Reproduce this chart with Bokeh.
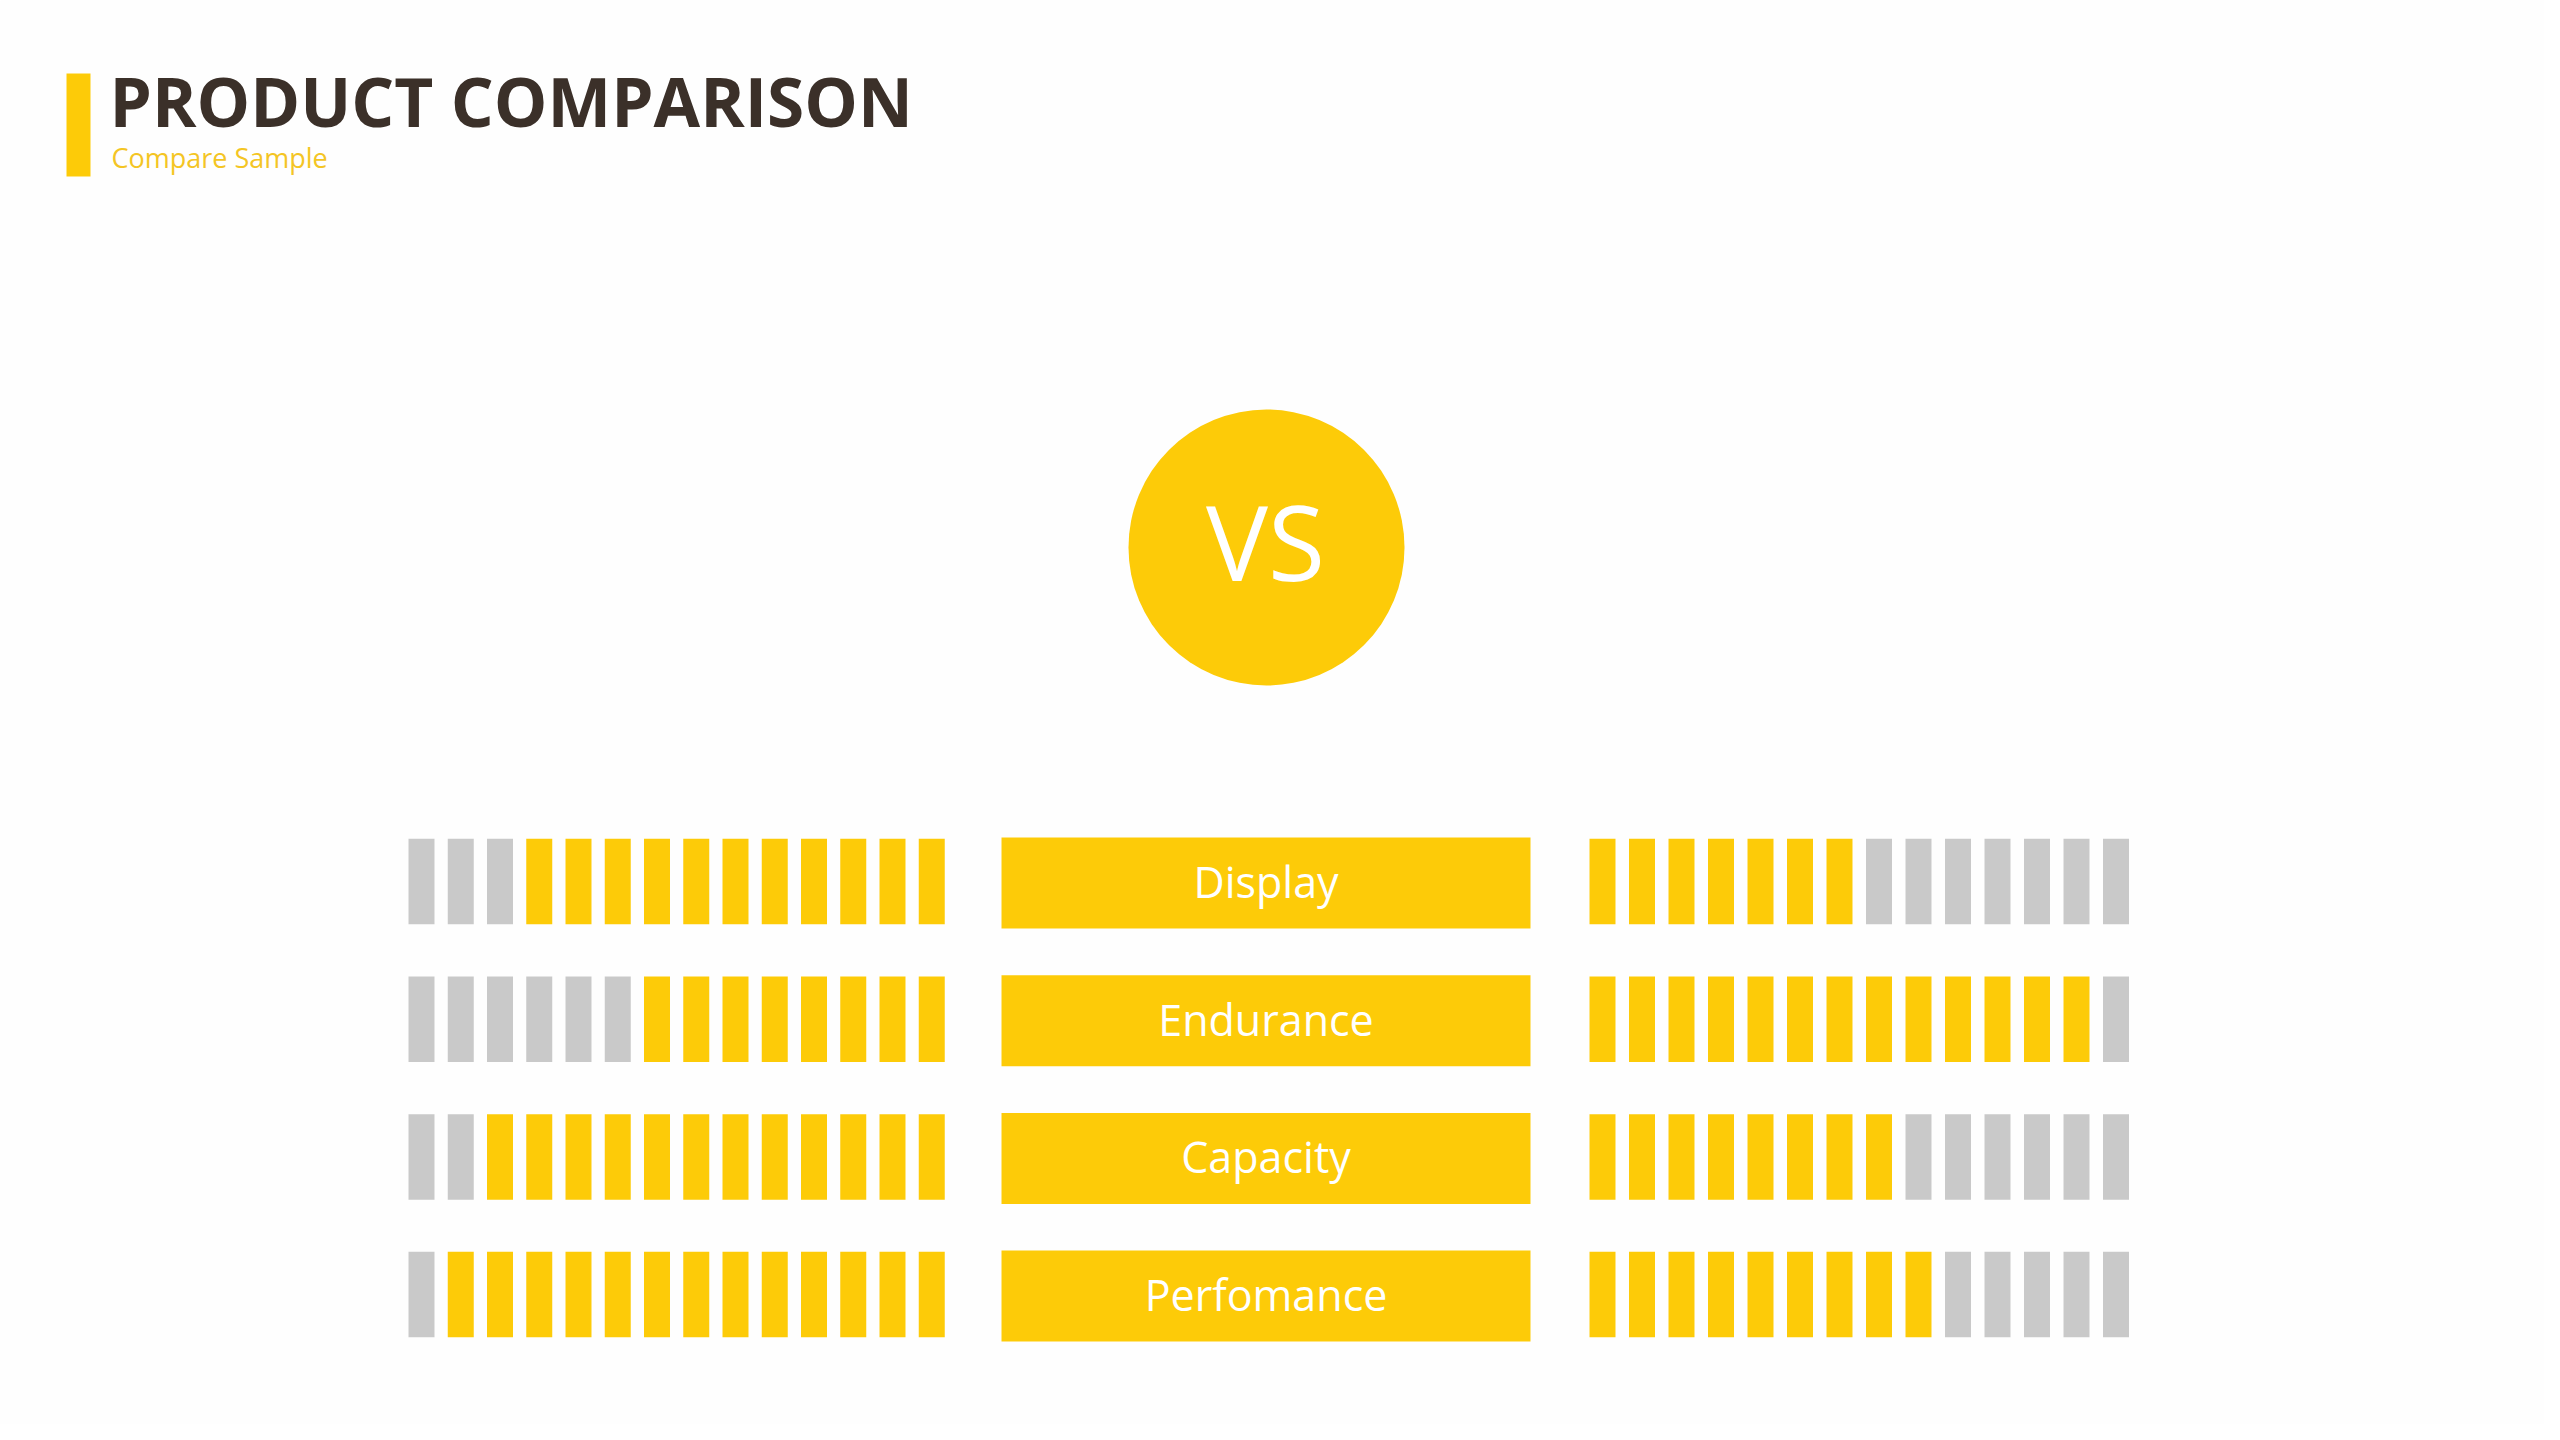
from bokeh.plotting import figure
from bokeh.models import ColumnDataSource, Range1d
from bokeh.core.properties import value
from bokeh.embed import file_html
from bokeh.resources import INLINE

# ---- data ----
title = "PRODUCT COMPARISON"
subtitle = "Compare Sample"
center_text = "VS"
categories = ["Display", "Endurance", "Capacity", "Perfomance"]
left_scores = [11, 8, 12, 13]
right_scores = [7, 13, 8, 9]
max_score = 14

# ---- styles ----
YELLOW = "#FDCB08"
GRAY = "#C9C9C9"
DARK = "#3B3029"
SUB = "#F4C524"
BG = "#FEFEFE"
FONT = "Open Sans"

W, H = 2544, 1424
p = figure(width=W, height=H, output_backend="svg", toolbar_location=None,
           x_range=Range1d(0, W), y_range=Range1d(H, 0),
           x_axis_location=None, y_axis_location=None, min_border=0)
p.grid.visible = False
p.outline_line_color = None
p.background_fill_color = BG
p.border_fill_color = BG

# baseline correction for the text glyph (fraction of font size)
BL = 0.41

# ---- layout (pixels) ----
row0, row_pitch = 881.0, 137.7
bar_h = 85.5
left_x0, left_pitch = 408.0, 39.25
right_x0, right_pitch = 1589.0, 39.5
bar_w = 26.0
box_l, box_r, box_h = 1001.0, 1530.0, 91.0

# header
TS = 67.5
p.quad(left=[66], right=[90], top=[73], bottom=[176], fill_color=YELLOW, line_color=None)
p.text(x=[109], y=[128 - BL * TS], text=[title], text_font=value(FONT), text_font_style="bold",
       text_font_size=f"{TS}px", text_color=DARK, text_baseline="alphabetic", text_align="left")
p.text(x=[111], y=[168 - BL * 27], text=[subtitle], text_font=value(FONT),
       text_font_size="27px", text_color=SUB, text_baseline="alphabetic", text_align="left")

# VS circle
p.circle(x=[1266], y=[547], radius=138, fill_color=YELLOW, line_color=None)
p.text(x=[1265], y=[583 - BL * 104], text=[center_text], text_font=value(FONT),
       text_font_size="104px", text_color="white", text_baseline="alphabetic", text_align="center")

# bars
lb = dict(left=[], right=[], top=[], bottom=[], color=[])
for r, (ls, rs) in enumerate(zip(left_scores, right_scores)):
    yc = row0 + r * row_pitch
    for i in range(max_score):
        # left side: filled from the right (toward the centre)
        xl = left_x0 + i * left_pitch
        lb["left"].append(xl); lb["right"].append(xl + bar_w)
        lb["top"].append(yc - bar_h / 2); lb["bottom"].append(yc + bar_h / 2)
        lb["color"].append(YELLOW if i >= max_score - ls else GRAY)
        # right side: filled from the left (toward the centre)
        xr = right_x0 + i * right_pitch
        lb["left"].append(xr); lb["right"].append(xr + bar_w)
        lb["top"].append(yc - bar_h / 2); lb["bottom"].append(yc + bar_h / 2)
        lb["color"].append(YELLOW if i < rs else GRAY)
p.quad(left="left", right="right", top="top", bottom="bottom", fill_color="color",
       line_color=None, source=ColumnDataSource(lb))

# category boxes
LS = 43
ys = [row0 + 1.5 + r * row_pitch for r in range(len(categories))]
box_src = ColumnDataSource(dict(
    left=[box_l] * len(categories), right=[box_r] * len(categories),
    top=[y - box_h / 2 for y in ys], bottom=[y + box_h / 2 for y in ys],
    x=[(box_l + box_r) / 2] * len(categories),
    y=[y + 16 - BL * LS for y in ys], text=categories))
p.quad(left="left", right="right", top="top", bottom="bottom", fill_color=YELLOW,
       line_color=None, source=box_src)
p.text(x="x", y="y", text="text", text_font=value(FONT), text_font_size=f"{LS}px",
       text_color="white", text_baseline="alphabetic", text_align="center", source=box_src)

open("out.html", "w").write(file_html(p, INLINE))
